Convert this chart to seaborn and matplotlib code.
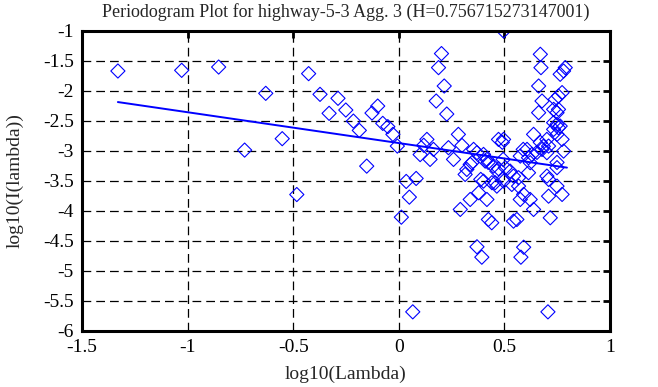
import matplotlib
matplotlib.use('Agg')
import matplotlib.pyplot as plt
import seaborn as sns
import numpy as np
import pandas as pd

hurst = 0.756715273147001
title = 'Periodogram Plot for highway-5-3 Agg. 3 (H=' + str(hurst) + ')'

# log10(Lambda) / log10(I(lambda))
log_lambda = [-1.330, -1.028, -0.853, -0.730, -0.630, -0.552, -0.483, -0.427, -0.373, -0.330,
              -0.288, -0.251, -0.215, -0.187, -0.152, -0.127, -0.100, -0.076, -0.052, -0.028,
              -0.007, 0.012, 0.035, 0.050, 0.066, 0.082, 0.101, 0.118, 0.133, 0.148,
              0.164, 0.177, 0.188, 0.202, 0.215, 0.227, 0.235, 0.259, 0.282, 0.291,
              0.299, 0.314, 0.322, 0.338, 0.338, 0.346, 0.354, 0.370, 0.370, 0.378,
              0.388, 0.393, 0.401, 0.401, 0.409, 0.417, 0.417, 0.423, 0.424, 0.440,
              0.441, 0.448, 0.456, 0.464, 0.464, 0.472, 0.472, 0.494, 0.496, 0.490,
              0.496, 0.496, 0.504, 0.527, 0.535, 0.543, 0.543, 0.559, 0.567, 0.567,
              0.575, 0.575, 0.578, 0.589, 0.591, 0.591, 0.607, 0.614, 0.614, 0.622,
              0.622, 0.630, 0.638, 0.638, 0.654, 0.662, 0.662, 0.670, 0.670, 0.673,
              0.678, 0.678, 0.684, 0.701, 0.701, 0.701, 0.706, 0.709, 0.709, 0.709,
              0.717, 0.733, 0.733, 0.733, 0.741, 0.749, 0.749, 0.749, 0.749, 0.749,
              0.749, 0.756, 0.756, 0.756, 0.764, 0.764, 0.773, 0.773, 0.773, 0.780,
              0.780, 0.788]
log_period = [-1.673, -1.662, -1.607, -2.990, -2.045, -2.800, -3.730, -1.717, -2.062, -2.378,
              -2.128, -2.323, -2.507, -2.662, -3.257, -2.373, -2.257, -2.545, -2.600, -2.728,
              -2.923, -4.107, -3.512, -3.773, -5.683, -3.462, -3.065, -2.910, -2.812, -3.145,
              -2.978, -2.173, -1.617, -1.383, -1.923, -2.390, -2.950, -3.145, -2.728, -3.978,
              -2.912, -3.395, -3.312, -3.228, -3.812, -3.200, -2.978, -3.033, -4.600, -3.700,
              -3.478, -4.773, -3.062, -3.507, -3.173, -3.145, -3.812, -3.195, -4.145, -4.200,
              -3.533, -3.257, -3.533, -3.340, -3.590, -2.812, -3.300, -3.145, -2.812, -2.860,
              -1.007, -3.507, -3.283, -3.340, -3.562, -3.423, -4.173, -4.145, -3.450, -3.590,
              -3.090, -3.812, -4.773, -2.978, -3.728, -4.607, -2.978, -3.117, -3.367, -3.200,
              -3.812, -3.062, -2.728, -3.978, -3.028, -1.923, -2.367, -2.862, -1.395, -1.617,
              -2.173, -2.978, -2.928, -2.812, -3.033, -3.423, -5.683, -2.923, -3.478, -3.757,
              -4.117, -2.645, -2.312, -2.533, -2.145, -2.728, -3.195, -3.283, -3.590, -2.367,
              -2.562, -2.617, -2.090, -2.312, -1.728, -2.590, -2.812, -3.728, -2.033, -3.007,
              -1.673, -1.617]

# fitted line: slope = 1 - 2H, intercept
fit_x = [-1.330, 0.796]
fit_intercept = -2.873

x_ticks = [-1.5, -1, -0.5, 0, 0.5, 1]
y_ticks = [-6, -5.5, -5, -4.5, -4, -3.5, -3, -2.5, -2, -1.5, -1]

sns.set_style('white')
plt.rcParams['font.family'] = ['Liberation Serif', 'DejaVu Serif']
plt.rcParams['axes.unicode_minus'] = False

df = pd.DataFrame({'x': log_lambda, 'y': log_period})
fit = pd.DataFrame({'x': fit_x, 'y': [fit_intercept + (1 - 2 * hurst) * v for v in fit_x]})

fig = plt.figure(figsize=(6.58, 3.87), dpi=100)
ax = fig.add_axes([0.1246, 0.145, 0.8025, 0.776])

sns.scatterplot(data=df, x='x', y='y', marker='D', s=52, ax=ax, zorder=3)
pts = ax.collections[0]
pts.set_facecolor('none')
pts.set_edgecolor('#0000ff')
pts.set_linewidth(0.8)
sns.lineplot(data=fit, x='x', y='y', color='#0000ff', linewidth=1.4, ax=ax, zorder=4)

ax.set_xlim(-1.5, 1)
ax.set_ylim(-6, -1)
ax.set_xticks(x_ticks)
ax.set_yticks(y_ticks)
ax.set_xticklabels(['%g' % t for t in x_ticks])
ax.set_yticklabels(['%g' % t for t in y_ticks])
ax.grid(True, color='black', linestyle=(0, (7, 4)), linewidth=0.9)
ax.tick_params(direction='in', length=5, width=2, top=True, right=True,
               labelsize=14, pad=6, colors='black')
for sp in ax.spines.values():
    sp.set_linewidth(2.2)
    sp.set_color('black')
    sp.set_zorder(5)

ax.set_xlabel('log10(Lambda)', fontsize=14, labelpad=7)
ax.set_ylabel('log10(I(lambda))', fontsize=14, labelpad=14)
ax.set_title(title, fontsize=13, pad=10)

fig.savefig('out.png', dpi=100)
